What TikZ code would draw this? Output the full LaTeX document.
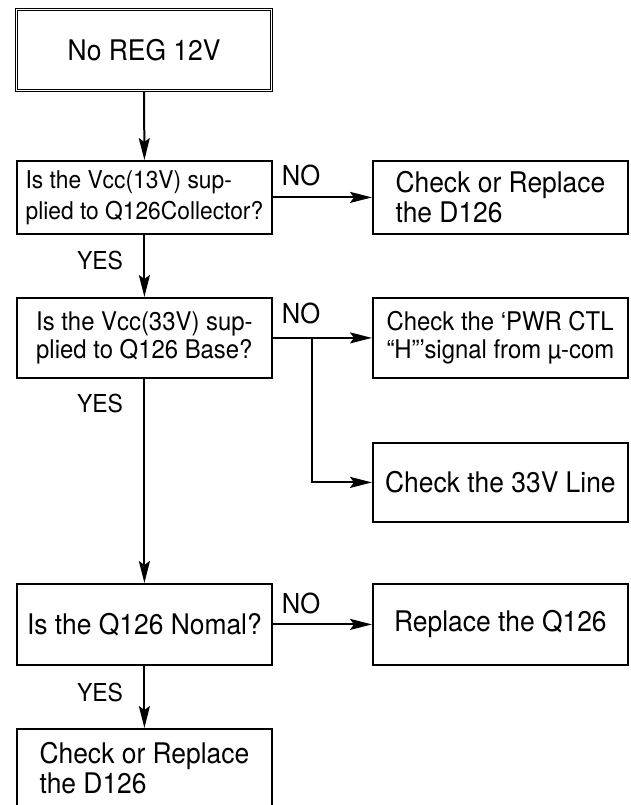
\documentclass[tikz,border=0pt]{standalone}
\usepackage{fontspec}
\setmainfont{TeX Gyre Heros}[FakeStretch=0.93]
\usetikzlibrary{arrows.meta}
\begin{document}
\begin{tikzpicture}[x=1pt,y=-1pt,
  box/.style={draw, line width=1.8pt, minimum width=255pt, align=left, inner sep=0pt, anchor=north west},
  fbig/.style={font=\fontsize{28.4}{30}\selectfont},
  fmid/.style={font=\fontsize{25.7}{28.5}\selectfont},
  fsmall/.style={font=\fontsize{24.5}{31}\selectfont},
  nolbl/.style={font=\fontsize{27.5}{30}\selectfont, inner sep=0pt},
  yeslbl/.style={font=\fontsize{24.7}{28}\selectfont, inner sep=0pt},
  arr/.style={line width=2pt, -{Stealth[length=22pt,width=11pt,inset=4pt]}},
]
\path[use as bounding box] (0,0) rectangle (631,805);
\clip (0,0) rectangle (631,805);

\node[box, fbig, minimum height=81pt, double, double distance=1.2pt, line width=1.1pt] (start) at (16,9) {No REG 12V};

\node[box, fsmall, minimum height=73pt] (q1) at (16,160) {Is the Vcc(13V) sup-\\plied to Q126Collector?};
\node[box, fbig, minimum height=73pt] (r1) at (372,160) {Check or Replace\\the D126};

\node[box, fmid, minimum height=80pt] (q2) at (16,297) {Is the Vcc(33V) sup-\\plied to Q126 Base?};
\node[box, fmid, minimum height=80pt] (r2) at (372,297) {Check the ‘PWR CTL\\“H”’signal from µ-com};

\node[box, fbig, minimum height=79pt] (r3) at (372,442) {Check the 33V Line};

\node[box, fbig, minimum height=81pt] (q3) at (16,583) {Is the Q126 Nomal?};
\node[box, fbig, minimum height=81pt] (r4) at (372,583) {Replace the Q126};

\node[box, fbig, minimum height=79pt] (last) at (16,728) {Check or Replace\\the D126};

\draw[arr] (start.south) -- (q1.north);
\draw[arr] (q1.east) -- (r1.west);
\draw[arr] (q1.south) -- (q2.north);
\draw[arr] (q2.east) -- (r2.west);
\coordinate (br) at (312,337);
\draw[arr] (br) |- (r3.west);
\draw[arr] (q2.south) -- (q3.north);
\draw[arr] (q3.east) -- (r4.west);
\draw[arr] (q3.south) -- (last.north);

\node[nolbl] (no1) at (301,175) {NO};
\node[nolbl] (no2) at (301,313) {NO};
\node[nolbl] (no3) at (301,603) {NO};
\node[yeslbl] (yes1) at (100,260) {YES};
\node[yeslbl] (yes2) at (100,403) {YES};
\node[yeslbl] (yes3) at (100,692) {YES};
\end{tikzpicture}
\end{document}
